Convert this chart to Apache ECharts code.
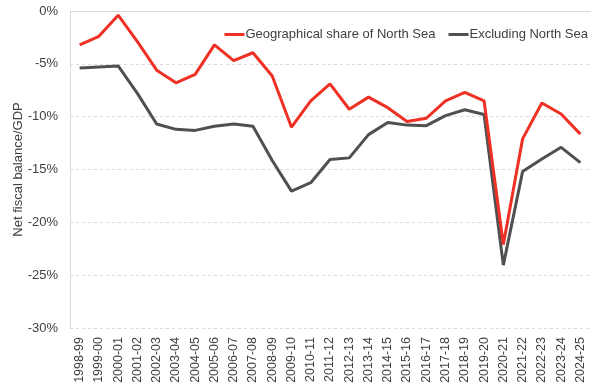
<!DOCTYPE html>
<html>
<head>
<meta charset="utf-8">
<script src="https://cdn.jsdelivr.net/npm/echarts@6/dist/echarts.min.js"></script>
<style>html,body{margin:0;padding:0;background:#fff;}#c{width:600px;height:390px;}</style>
</head>
<body>
<div id="c"></div>
<script>
const categories = ["1998-99","1999-00","2000-01","2001-02","2002-03","2003-04","2004-05","2005-06","2006-07","2007-08","2008-09","2009-10","2010-11","2011-12","2012-13","2013-14","2014-15","2015-16","2016-17","2017-18","2018-19","2019-20","2020-21","2021-22","2022-23","2023-24","2024-25"];
const geoShare = [-3.2,-2.4,-0.4,-2.9,-5.6,-6.8,-6.0,-3.2,-4.7,-3.95,-6.15,-11.0,-8.5,-6.9,-9.3,-8.15,-9.15,-10.45,-10.15,-8.5,-7.7,-8.5,-22.1,-12.1,-8.7,-9.75,-11.65];
const exNorthSea = [-5.4,-5.3,-5.2,-7.8,-10.7,-11.2,-11.3,-10.9,-10.7,-10.9,-14.15,-17.05,-16.25,-14.05,-13.9,-11.7,-10.55,-10.8,-10.85,-9.9,-9.35,-9.8,-24.05,-15.2,-14.0,-12.9,-14.35];
const yTicks = [-30,-25,-20,-15,-10,-5,0];
const seriesNames = ["Geographical share of North Sea","Excluding North Sea"];

const chart = echarts.init(document.getElementById('c'), null, {renderer:'canvas'});
const font = 'Liberation Sans, Arial, sans-serif';
chart.setOption({
  animation:false,
  backgroundColor:'#fff',
  textStyle:{fontFamily:font},
  legend:{
    right:7, top:23, itemWidth:20, itemHeight:3, itemGap:13,
    icon:'rect',
    textStyle:{fontFamily:font,fontSize:13,color:'#404040',padding:[0,0,0,-4]},
    data:seriesNames
  },
  grid:{left:70,right:10,top:11,bottom:62,containLabel:false,outerBoundsMode:'none'},
  xAxis:[{
    type:'category', data:categories, position:'bottom', boundaryGap:true,
    axisLine:{show:false}, axisTick:{show:false},
    axisLabel:{rotate:90,fontSize:12.5,color:'#404040',fontFamily:font,interval:0,margin:9}
  },{
    type:'category', data:categories, position:'top', boundaryGap:true,
    axisLine:{show:true,lineStyle:{color:'#d9d9d9',width:1}}, axisTick:{show:false},
    axisLabel:{show:false}
  }],
  yAxis:{
    type:'value', min:-30, max:0, interval:5,
    name:'Net fiscal balance/GDP', nameLocation:'middle', nameGap:45, nameRotate:90,
    nameMoveOverlap:false,
    nameTextStyle:{fontSize:13,color:'#404040',fontFamily:font},
    axisLine:{show:true,lineStyle:{color:'#d9d9d9',width:1}}, axisTick:{show:false},
    axisLabel:{formatter:v=>v+'%',fontSize:13,color:'#404040',fontFamily:font,margin:12,
      customValues:yTicks},
    splitLine:{show:true,lineStyle:{color:'#d9d9d9',type:[3,3],width:1}}
  },
  series:[{
    name:seriesNames[0], type:'line', data:geoShare, showSymbol:false, symbol:'none',
    lineStyle:{color:'#ee3124',width:3}, itemStyle:{color:'#ee3124'}, z:3
  },{
    name:seriesNames[1], type:'line', data:exNorthSea, showSymbol:false, symbol:'none',
    lineStyle:{color:'#505050',width:3}, itemStyle:{color:'#505050'}, z:2
  }]
});
</script>
</body>
</html>
